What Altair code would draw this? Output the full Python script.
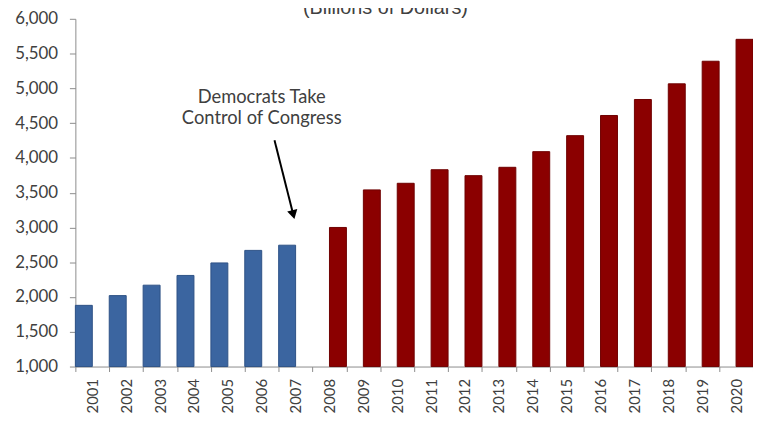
import altair as alt
import pandas as pd

years = ["2001", "2002", "2003", "2004", "2005", "2006", "2007", "2008", "2009", "2010",
         "2011", "2012", "2013", "2014", "2015", "2016", "2017", "2018", "2019", "2020"]
spending = [1880, 2020, 2170, 2310, 2490, 2670, 2745, 3000, 3540, 3635,
            3830, 3745, 3865, 4090, 4320, 4610, 4840, 5065, 5390, 5705]
period = ["Before", "Before", "Before", "Before", "Before", "Before", "Before",
          "After", "After", "After", "After", "After", "After", "After", "After",
          "After", "After", "After", "After", "After"]
period_order = ["Before", "After"]
bar_colors = ["#3B65A0", "#8B0000"]
bar_edges = ["#2E5286", "#6E0000"]
y_ticks = [1000, 1500, 2000, 2500, 3000, 3500, 4000, 4500, 5000, 5500, 6000]

note_lines = ["Democrats Take", "Control of Congress"]
note_year = "2006"
note_value = 4790
arrow_from = 4254
arrow_to = 3184
title_text = "(Billions of Dollars)"

df = pd.DataFrame({"year": years, "value": spending, "period": period})

x_axis = alt.Axis(
    title=None, labelAngle=270, tickBand="extent", grid=False,
    labelFont="Lato", labelFontSize=15, labelColor="#404040",
    labelPadding=7, tickSize=5,
)
x_scale = alt.Scale(domain=years, paddingInner=0, paddingOuter=0)
y_axis = alt.Axis(
    title=None, values=y_ticks, format=",d", grid=False,
    labelOverlap=False, labelFlush=False,
    labelFont="Lato", labelFontSize=17, labelColor="#404040",
    labelPadding=12, tickSize=6,
)
y_scale = alt.Scale(domain=[1000, 6000], zero=False, nice=False)

bars = alt.Chart(df).mark_bar(strokeWidth=1).encode(
    x=alt.X("year:N", scale=x_scale, axis=x_axis),
    xOffset=alt.XOffset(
        "period:N",
        scale=alt.Scale(domain=period_order, paddingInner=0, paddingOuter=0),
    ),
    y=alt.Y("value:Q", scale=y_scale, axis=y_axis),
    y2=alt.datum(1000),
    color=alt.Color("period:N", scale=alt.Scale(domain=period_order, range=bar_colors), legend=None),
    stroke=alt.Stroke("period:N", scale=alt.Scale(domain=period_order, range=bar_edges), legend=None),
)

note_df = pd.DataFrame({"year": [note_year], "value": [note_value]})
note = alt.Chart(note_df).mark_text(
    text=note_lines, font="Lato", fontSize=18.5, lineHeight=21,
    color="#404040", align="center", baseline="alphabetic",
).encode(
    x=alt.X("year:N", scale=x_scale, axis=x_axis),
    y=alt.Y("value:Q", scale=y_scale, axis=y_axis),
)

arrow = alt.Chart(note_df).mark_rule(color="black", strokeWidth=2).encode(
    x=alt.value(201), x2=alt.value(220),
    y=alt.YDatum(arrow_from, scale=y_scale, axis=y_axis), y2=alt.datum(arrow_to),
)
head = alt.Chart(note_df).mark_point(
    shape="triangle-down", filled=True, size=110, angle=346,
    color="black", opacity=1,
).encode(x=alt.value(220), y=alt.YDatum(arrow_to, scale=y_scale, axis=y_axis))

title = alt.Chart(note_df).mark_text(
    text=title_text, font="Liberation Sans", fontSize=20,
    color="#404040", align="center", baseline="alphabetic",
).encode(x=alt.value(313), y=alt.value(-5))

chart = alt.layer(bars, note, arrow, head, title).properties(
    width=684, height=351,
    autosize=alt.AutoSizeParams(type="none"),
    padding={"left": 68, "top": 9, "right": 0, "bottom": 48},
).configure_view(stroke=None).configure_axis(
    domainColor="#8C8C8C", tickColor="#8C8C8C", domainWidth=1,
)

chart.save("out.html", embed_options={"renderer": "svg", "actions": False})
